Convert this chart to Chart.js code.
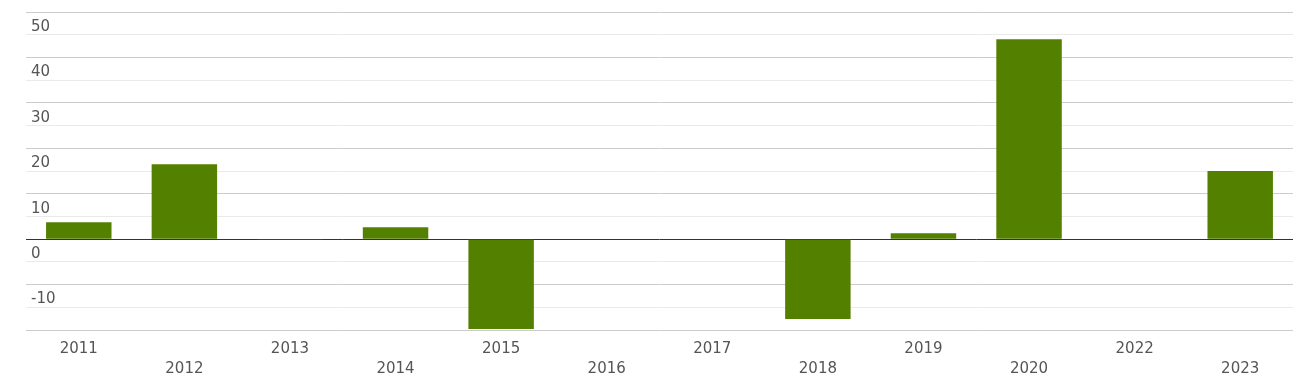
<!DOCTYPE html>
<html>
<head>
<meta charset="utf-8">
<script src="https://cdn.jsdelivr.net/npm/chart.js@4"></script>
<style>
  html, body { margin: 0; padding: 0; background: #fff; }
  #wrap { width: 1293px; height: 384px; }
</style>
</head>
<body>
<div id="wrap"><canvas id="chart"></canvas></div>
<script>
const years = ['2011', '2012', '2013', '2014', '2015', '2016', '2017', '2018', '2019', '2020', '2022', '2023'];
const values = [3.7, 16.5, -0.1, 2.6, -19.8, 0, 0, -17.6, 1.3, 44.0, 0, 15.0];
const yMin = -20;
const yMax = 50;

// alternate the year labels on two rows
const xLabels = years.map((y, i) => i % 2 === 0 ? [y, ''] : ['', y]);

new Chart(document.getElementById('chart').getContext('2d'), {
    type: 'bar',
    data: {
        labels: xLabels,
        datasets: [{
            data: values,
            backgroundColor: '#548000',
            categoryPercentage: 1,
            barPercentage: 0.62
        }]
    },
    options: {
        responsive: true,
        maintainAspectRatio: false,
        animation: false,
        layout: { padding: { left: 26, top: 12, right: 0, bottom: 0 } },
        plugins: { legend: { display: false }, tooltip: { enabled: false } },
        scales: {
            x: {
                afterFit: axis => { axis.height = 54; },
                grid: { display: false },
                border: { display: false },
                ticks: {
                    color: '#555',
                    padding: 1,
                    maxRotation: 0,
                    autoSkip: false,
                    font: { family: 'DejaVu Sans', size: 15, lineHeight: 1.333 }
                }
            },
            y: {
                min: yMin,
                max: yMax,
                afterFit: axis => {
                    axis.width = 0;
                    axis.paddingTop = 0;
                    axis.paddingBottom = 0;
                },
                border: { display: false },
                grid: {
                    drawTicks: false,
                    color: c => {
                        const v = c.tick.value;
                        if (v === 0) return '#333';
                        return v % 10 === 0 ? '#ccc' : '#eaeaea';
                    },
                    lineWidth: 1
                },
                ticks: {
                    stepSize: 5,
                    mirror: true,
                    padding: 5,
                    labelOffset: 15,
                    color: '#555',
                    font: { family: 'DejaVu Sans', size: 15 },
                    callback: v => (v % 10 === 0 && v !== yMin) ? v : ''
                }
            }
        }
    }
});
</script>
</body>
</html>
